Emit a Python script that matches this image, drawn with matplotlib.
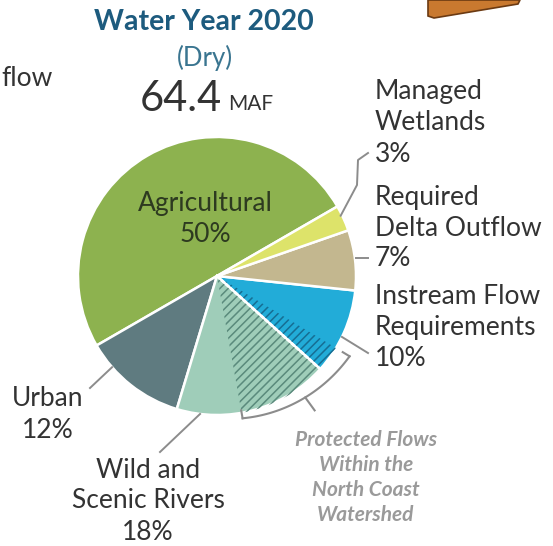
import numpy as np
import matplotlib.pyplot as plt
from matplotlib.patches import Wedge, Polygon

W, H = 553, 546

# Water Year 2020 (Dry) uses, percent of total
categories = ['Agricultural', 'Urban', 'Wild and\nScenic Rivers',
              'Instream Flow\nRequirements', 'Required\nDelta Outflow',
              'Managed\nWetlands']
shares = [50, 12, 18, 10, 7, 3]
total_maf = 64.4

# part of each slice that is protected flow in the North Coast watershed
protected_wild = 10.5
protected_instream = 3.0

colors = ['#8db24f', '#5f7b80', '#9fcdb9', '#22acd8', '#c3b78f', '#dde36a']
hatch_wild = '#5a8a7c'
hatch_instream = '#166e93'
text_dark = '#333333'
leader = '#8c8c8c'

plt.rcParams['font.family'] = ['Lato', 'DejaVu Sans']
plt.rcParams['hatch.linewidth'] = 1.1

fig = plt.figure(figsize=(W / 100, H / 100), dpi=100)
ax = fig.add_axes([0, 0, 1, 1])

cx, cy, R = 217, 270, 139
start = 30

wedges, _ = ax.pie(shares, colors=colors, startangle=start, radius=R,
                   center=(cx, cy), explode=[0.035, 0, 0, 0, 0, 0],
                   counterclock=True,
                   wedgeprops=dict(edgecolor='white', linewidth=1.8))

bounds = start + 3.6 * np.concatenate([[0], np.cumsum(shares)])
b_wild_inst = bounds[3]


def polar(ang, r):
    a = np.radians(ang)
    return cx + r * np.cos(a), cy + r * np.sin(a)


# hatched protected flows, either side of the wild/instream boundary
ax.add_patch(Wedge((cx, cy), R, b_wild_inst - 3.6 * protected_wild, b_wild_inst,
                   facecolor='none', edgecolor=hatch_wild, linewidth=0, hatch='////'))
ax.add_patch(Wedge((cx, cy), R, b_wild_inst, b_wild_inst + 3.6 * protected_instream,
                   facecolor='none', edgecolor=hatch_instream, linewidth=0, hatch='////'))
x1, y1 = polar(b_wild_inst, R)
ax.plot([cx, x1], [cy, y1], color='white', lw=1.8)

# bracket around the protected flows
a0 = b_wild_inst - 3.6 * protected_wild
a1 = b_wild_inst + 3.6 * protected_instream
angs = np.linspace(a0, a1, 60)
rads = np.linspace(1.04 * R, 1.115 * R, 60)
bx, by = polar(angs, rads)
ax.plot(bx, by, color=leader, lw=1.5)
for ang, r in [(a0, 1.04 * R), (a1, 1.115 * R)]:
    px, py = polar(np.array([ang, ang]), np.array([r, r - 8]))
    ax.plot(px, py, color=leader, lw=1.5)
mid = 306
rm = np.interp(mid, [a0, a1], [1.04 * R, 1.115 * R])
px, py = polar(np.array([mid, mid]), np.array([rm, rm + 16]))
ax.plot(px, py, color=leader, lw=1.5)

# leader lines (pixel coordinates, y measured up)
lx, ly = polar(26, 0.99 * R)
ax.plot([lx, 357, 358, 368], [ly, 361, 386, 393], color=leader, lw=1.4)
lx, ly = polar(7.4, R)
ax.plot([lx + 1, 368], [ly, ly], color=leader, lw=1.4)
lx, ly = polar(334, R)
ax.plot([lx, 368], [ly, 193], color=leader, lw=1.4)
lx, ly = polar(221, R)
ax.plot([lx, 90], [ly, 158], color=leader, lw=1.4)
lx, ly = polar(263, R)
ax.plot([lx, 160], [ly, 94], color=leader, lw=1.4)


def stack(x, y_top, lines, step=31, **kw):
    for i, s in enumerate(lines):
        ax.text(x, H - (y_top + i * step), s, va='center', **kw)


fs = 19
pct = [f'{v}%' for v in shares]
stack(205, 203, ['Agricultural', pct[0]], ha='center', fontsize=fs, color='#2d3a20')
stack(375, 92, categories[5].split('\n') + [pct[5]], ha='left', fontsize=fs, color=text_dark)
stack(375, 197, categories[4].split('\n') + [pct[4]], ha='left', fontsize=fs, color=text_dark)
stack(375, 297, categories[3].split('\n') + [pct[3]], ha='left', fontsize=fs, color=text_dark)
stack(48, 398, [categories[1], pct[1]], step=32, ha='center', fontsize=fs, color=text_dark)
stack(148, 470, categories[2].split('\n') + [pct[2]], ha='center', fontsize=fs, color=text_dark)
stack(366, 440, ['Protected Flows', 'Within the', 'North Coast', 'Watershed'], step=25,
      ha='center', fontsize=15, fontweight='bold', fontstyle='italic', color='#9a9a9a')

# heading
ax.text(204, H - 22, 'Water Year 2020', ha='center', va='center', fontsize=20.5,
        fontweight='bold', color='#1d5b7e')
ax.text(205, H - 58, '(Dry)', ha='center', va='center', fontsize=18.5, color='#3a7590')
ax.text(222, H - 99, f'{total_maf}', ha='right', va='center', fontsize=30,
        color=text_dark)
ax.text(228, H - 104, 'MAF', ha='left', va='center', fontsize=15, color=text_dark)
ax.text(1, H - 78, 'flow', ha='left', va='center', fontsize=fs, color=text_dark)

# edge of the neighbouring tab, top right
ax.add_patch(Polygon([(428, H), (520, H), (518, H - 4), (434, H - 18), (428, H - 16)],
                     closed=True, facecolor='#c9792f', edgecolor='#6b3a12', lw=1.2))

ax.set_xlim(0, W)
ax.set_ylim(0, H)
ax.set_aspect('auto')
ax.axis('off')
fig.savefig('out.png', dpi=100, facecolor='white')
